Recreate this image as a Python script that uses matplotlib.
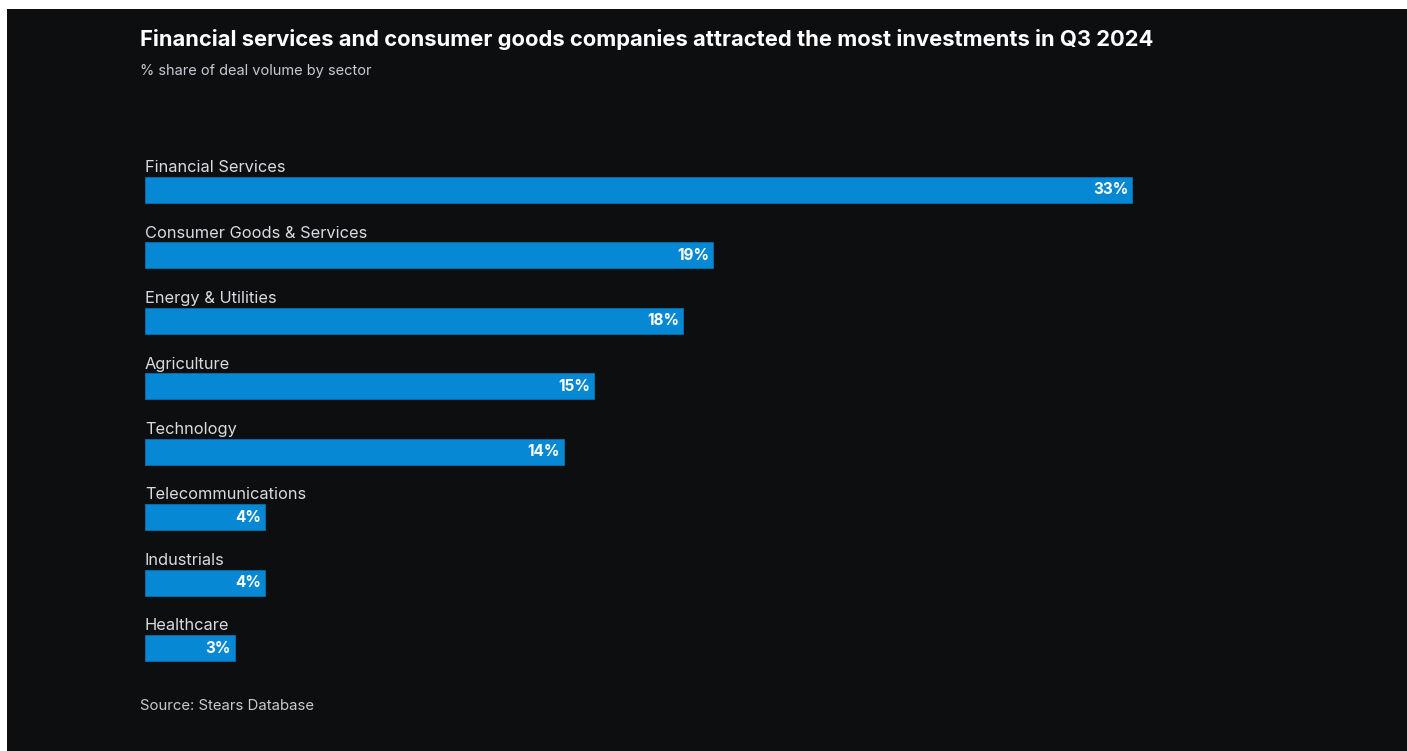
import matplotlib.pyplot as plt
from matplotlib.patches import Rectangle

sectors = ["Financial Services", "Consumer Goods & Services", "Energy & Utilities",
           "Agriculture", "Technology", "Telecommunications", "Industrials", "Healthcare"]
shares = [33, 19, 18, 15, 14, 4, 4, 3]

BG = "#0d0e10"
BAR = "#0788d5"
W, H = 1407, 751

plt.rcParams['font.family'] = ['Inter', 'DejaVu Sans']

fig = plt.figure(figsize=(W / 100, H / 100), dpi=100, facecolor="white")
# dark panel, leaving a thin white strip on top and left
fig.patches.append(Rectangle((7 / W, 0), 1 - 7 / W, 1 - 9 / H, transform=fig.transFigure,
                             facecolor=BG, edgecolor="none", zorder=0))

# axes placed in pixels: x=0 at 145px, 29.9px per percent; rows 65.43px apart
px_per_unit = 29.9
row = 65.43
top_px, bot_px = 140, 680
xmax = 40
ax = fig.add_axes([145 / W, 1 - bot_px / H, px_per_unit * xmax / W, (bot_px - top_px) / H])
ax.set_zorder(2)
ax.set_facecolor("none")
ax.set_xlim(0, xmax)
ax.set_ylim((bot_px - 190) / row, (top_px - 190) / row)

ypos = list(range(len(sectors)))
ax.barh(ypos, shares, height=26 / row, color=BAR, edgecolor="#0670b0", linewidth=0.6)

for y, name, v in zip(ypos, sectors, shares):
    ax.text(0, y - 0.34, name, color="#d9dbe0", fontsize=11.8, va="center", ha="left")
    ax.text(v - 0.12, y, f"{v}%", color="white", fontsize=11, fontweight="bold",
            va="center", ha="right")

ax.axis("off")

fig.text(140 / W, 1 - 40 / H,
         "Financial services and consumer goods companies attracted the most investments in Q3 2024",
         color="white", fontsize=15.8, fontweight="bold", va="center", ha="left", zorder=3)
fig.text(140 / W, 1 - 71 / H, "% share of deal volume by sector",
         color="#c6cad0", fontsize=10.5, va="center", ha="left", zorder=3)
fig.text(140 / W, 1 - 706 / H, "Source: Stears Database",
         color="#c6cad0", fontsize=10.75, va="center", ha="left", zorder=3)

fig.savefig("out.png", dpi=100, facecolor=fig.get_facecolor())
